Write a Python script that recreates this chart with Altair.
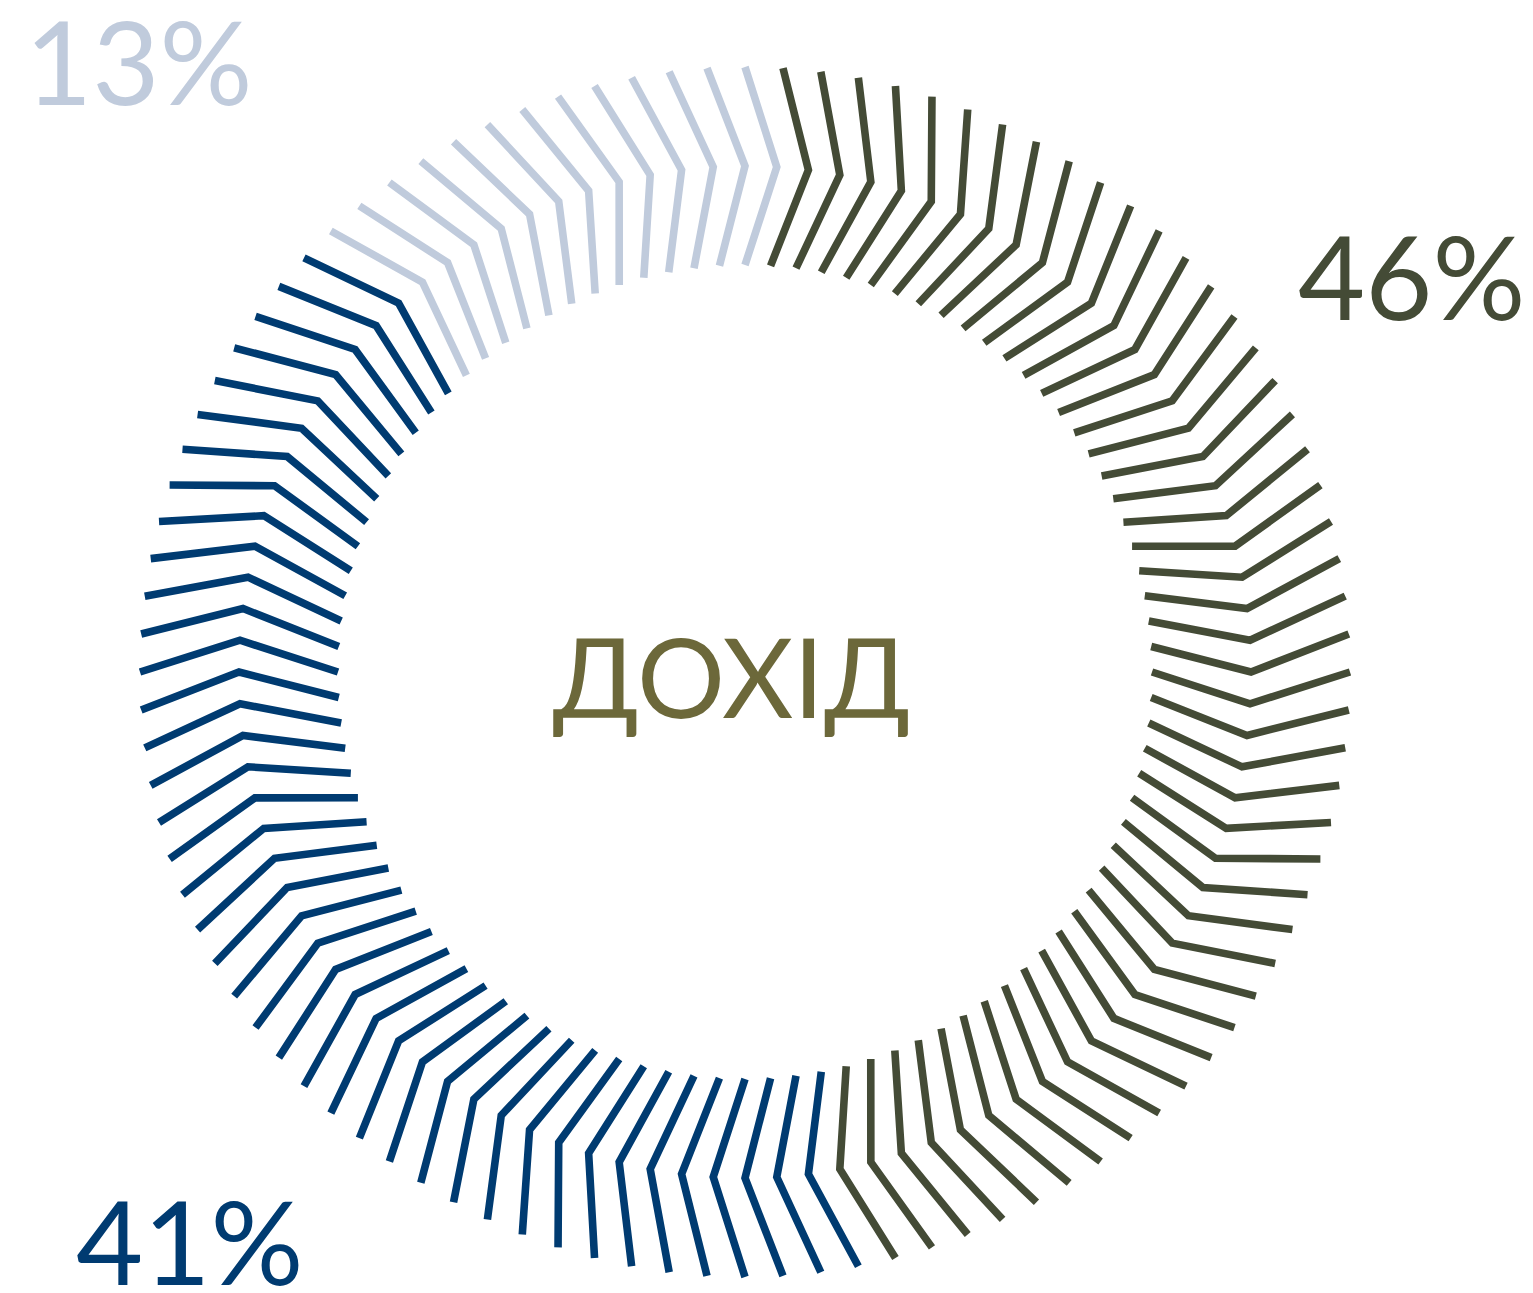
import math
import altair as alt
import pandas as pd

# ---- data ----
categories = ["olive", "navy", "light"]
shares = [46, 41, 13]
colors = ["#444b36", "#003b71", "#c0cbdc"]
labels = ["46%", "41%", "13%"]
center_title = ["ДОХІД"]

# ---- geometry / layout (not data) ----
W, H = 1517, 1285
CX, CY = 737, 664
R_IN, R_MID, R_OUT = 407, 506, 605

total = sum(shares)
step = 2 * math.pi / total
rows = []
k = 0
for cat, n in zip(categories, shares):
    for _ in range(n):
        k += 1
        th = k * step
        for p, (r, dth) in enumerate([(R_IN, 0.0), (R_MID, step), (R_OUT, 0.0)]):
            a = th + dth
            rows.append({"k": k, "p": p, "cat": cat,
                         "x": CX + r * math.sin(a), "y": CY - r * math.cos(a)})
df = pd.DataFrame(rows)

xs = alt.Scale(domain=[0, W], nice=False, zero=False)
ys = alt.Scale(domain=[0, H], nice=False, zero=False, reverse=True)

chev = alt.Chart(df).mark_line(strokeWidth=7.6, strokeCap="butt", strokeJoin="miter").encode(
    x=alt.X("x:Q", scale=xs, axis=None),
    y=alt.Y("y:Q", scale=ys, axis=None),
    detail="k:N",
    order="p:Q",
    color=alt.Color("cat:N", scale=alt.Scale(domain=categories, range=colors), legend=None),
)

def label(txt, px, py, color, size, align="left"):
    return alt.Chart(pd.DataFrame({"t": [txt]})).mark_text(
        font="Lato", fontSize=size, color=color, align=align, baseline="alphabetic"
    ).encode(text="t:N", x=alt.value(px), y=alt.value(py))

pos = {"46%": (1290, 312), "41%": (68, 1277), "13%": (17, 97)}
layers = [chev]
for lab, col in zip(labels, colors):
    px, py = pos[lab]
    layers.append(label(lab, px, py, col, 116))
layers.append(label(center_title[0], 723.5, 710, "#6c683a", 110, align="center"))

chart = alt.layer(*layers).properties(
    width=W, height=H, padding=0, autosize=alt.AutoSizeParams(type="none")
).configure_view(stroke=None)

chart.save("out.html", embed_options={"renderer": "svg", "actions": False})
